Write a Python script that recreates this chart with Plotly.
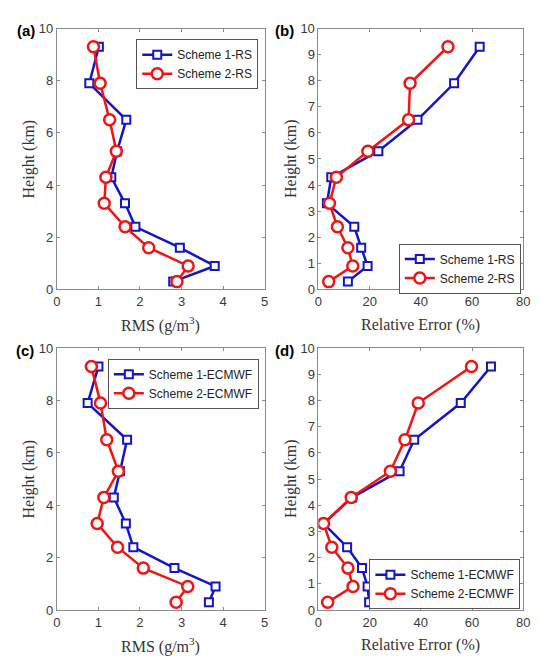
import plotly.graph_objects as go

heights = [0.3, 0.9, 1.6, 2.4, 3.3, 4.3, 5.3, 6.5, 7.9, 9.3]

rms_s1_rs = [2.80, 3.80, 2.96, 1.89, 1.64, 1.31, 1.45, 1.67, 0.78, 1.01]
rms_s2_rs = [2.89, 3.16, 2.21, 1.64, 1.14, 1.18, 1.43, 1.27, 1.04, 0.88]

re_s1_rs = [11.5, 19.2, 16.7, 14.0, 3.3, 5.0, 23.4, 38.7, 53.0, 63.0]
re_s2_rs = [4.0, 13.4, 11.5, 7.4, 4.3, 7.0, 19.3, 35.2, 35.8, 50.6]

rms_s1_ec = [3.66, 3.82, 2.83, 1.84, 1.66, 1.37, 1.52, 1.69, 0.74, 1.00]
rms_s2_ec = [2.87, 3.15, 2.08, 1.46, 0.97, 1.13, 1.48, 1.20, 1.05, 0.83]

re_s1_ec = [19.8, 19.2, 17.0, 11.2, 2.0, 13.2, 31.7, 37.4, 55.6, 67.4]
re_s2_ec = [3.6, 13.5, 11.5, 5.2, 2.0, 12.8, 28.1, 33.8, 39.0, 59.8]

W, H = 540, 662
BLUE = "#1414c8"
RED = "#f01414"

def px_x(p):
    return p / W

def px_y(p):
    return 1 - p / H

panels = [
    ("a", (54, 266), (22, 289), [0, 5], [0, 1, 2, 3, 4, 5], [0, 2, 4, 6, 8, 10],
     rms_s1_rs, rms_s2_rs, ("Scheme 1-RS", "Scheme 2-RS"), (135, 33), "RMS (g/m<sup>3</sup>)", 11),
    ("b", (321, 530), (22, 289), [0, 80], [0, 20, 40, 60, 80], list(range(0, 11)),
     re_s1_rs, re_s2_rs, ("Scheme 1-RS", "Scheme 2-RS"), (403, 242), "Relative Error (%)", 275),
    ("c", (54, 266), (349, 617), [0, 5], [0, 1, 2, 3, 4, 5], [0, 2, 4, 6, 8, 10],
     rms_s1_ec, rms_s2_ec, ("Scheme 1-ECMWF", "Scheme 2-ECMWF"), (106, 360), "RMS (g/m<sup>3</sup>)", 10),
    ("d", (321, 530), (349, 617), [0, 80], [0, 20, 40, 60, 80], list(range(0, 11)),
     re_s1_ec, re_s2_ec, ("Scheme 1-ECMWF", "Scheme 2-ECMWF"), (373, 565), "Relative Error (%)", 275),
]

fig = go.Figure()
annotations = []
layout = {}

for i, (lab, xr, yr, xrange, xticks, yticks, s1, s2, names, lpos, xtitle, labx) in enumerate(panels):
    k = "" if i == 0 else str(i + 1)
    xa = "x" + k
    ya = "y" + k
    leg = "legend" + k
    fig.add_trace(go.Scatter(
        x=s1, y=heights, mode="lines+markers", name=names[0],
        xaxis=xa, yaxis=ya, legend=leg,
        line=dict(color=BLUE, width=2.5),
        marker=dict(symbol="square", size=8, color="white", line=dict(color=BLUE, width=2)),
    ))
    fig.add_trace(go.Scatter(
        x=s2, y=heights, mode="lines+markers", name=names[1],
        xaxis=xa, yaxis=ya, legend=leg,
        line=dict(color=RED, width=2.5),
        marker=dict(symbol="circle", size=11, color="white", line=dict(color=RED, width=2.5)),
    ))
    axcommon = dict(
        showgrid=False, zeroline=False, showline=True, linecolor="#8a8a8a", linewidth=1,
        mirror="ticks", ticks="inside", ticklen=3, tickcolor="#8a8a8a",
        tickfont=dict(family="Liberation Sans, Arial", size=13, color="#3a3a3a"),
    )
    layout["xaxis" + k] = dict(
        domain=[px_x(xr[0]), px_x(xr[1])], range=xrange, tickvals=xticks,
        anchor=ya, **axcommon)
    layout["yaxis" + k] = dict(
        domain=[px_y(yr[1]), px_y(yr[0])], range=[0, 10], tickvals=yticks,
        anchor=xa, **axcommon)
    layout[leg] = dict(
        x=px_x(lpos[0]), y=px_y(lpos[1]), xanchor="left", yanchor="top",
        bordercolor="#555555", borderwidth=1, bgcolor="white",
        font=dict(family="Liberation Sans, Arial", size=12, color="#222222"),
        tracegroupgap=0, itemwidth=30,
    )
    annotations.append(dict(
        text="<b>(" + lab + ")</b>", x=px_x(labx),
        y=px_y(yr[0] + 2), xref="paper", yref="paper", xanchor="left", yanchor="middle",
        showarrow=False, font=dict(family="Liberation Sans, Arial", size=15, color="black"),
    ))
    annotations.append(dict(
        text=xtitle, x=px_x((xr[0] + xr[1]) / 2), y=px_y(yr[1] + 36),
        xref="paper", yref="paper", xanchor="center", yanchor="middle", showarrow=False,
        font=dict(family="Liberation Serif, Times New Roman", size=16, color="#333333"),
    ))
    annotations.append(dict(
        text="Height (km)", x=px_x(xr[0] - 28), y=px_y((yr[0] + yr[1]) / 2),
        xref="paper", yref="paper", xanchor="center", yanchor="middle", showarrow=False,
        textangle=-90,
        font=dict(family="Liberation Serif, Times New Roman", size=16, color="#333333"),
    ))

fig.update_layout(
    width=W, height=H, margin=dict(l=0, r=0, t=0, b=0),
    paper_bgcolor="white", plot_bgcolor="white",
    showlegend=True, annotations=annotations, **layout,
)

fig.write_html(
    "out.html",
    config={"displayModeBar": False},
    post_script="document.body.style.margin='0';document.body.style.padding='0';"
                "document.body.style.overflow='hidden';",
)
